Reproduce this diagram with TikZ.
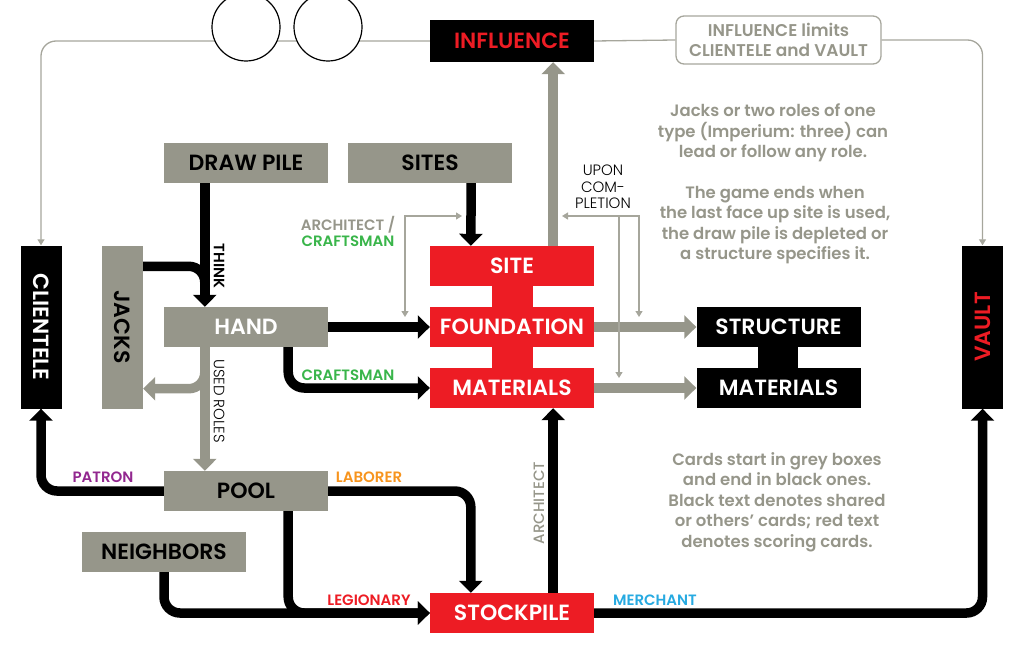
\documentclass[tikz,border=0pt]{standalone}
\usepackage{fontspec}
\setmainfont{Poppins}[BoldFont={Poppins SemiBold}]
\newfontfamily\lightfont{Poppins Light}
\newfontfamily\medfont{Poppins Medium}
\usetikzlibrary{arrows.meta}

\begin{document}
\begin{tikzpicture}[x=1pt,y=-1pt,
  box/.style={minimum width=164pt,minimum height=40pt,inner sep=0pt,
    font=\bfseries\fontsize{22}{22}\selectfont},
  graybox/.style={box,fill=cgray,text=black},
  redbox/.style={box,fill=cred,text=white},
  blackbox/.style={box,fill=black,text=white},
  tallbox/.style={box,minimum width=41pt,minimum height=163pt},
  lbl/.style={inner sep=0pt,font=\bfseries\fontsize{15}{16}\selectfont},
  thinlbl/.style={inner sep=0pt,font=\lightfont\fontsize{15}{16.5}\selectfont},
  note/.style={inner sep=0pt,align=center,text=cgray,
    font=\bfseries\fontsize{16.5}{20.4}\selectfont},
  blk/.style={draw=black,line width=9.5pt,rounded corners=16pt,
    -{Triangle[width=23pt,length=12pt]}},
  blkline/.style={draw=black,line width=9.5pt,rounded corners=16pt},
  gry/.style={blk,draw=cgray},
  thinline/.style={draw=cgray!85,line width=1.3pt,rounded corners=15pt},
  thinarr/.style={thinline,-{Triangle[width=7pt,length=6pt]}}]
  \definecolor{cgray}{RGB}{150,150,138}
  \definecolor{cred}{RGB}{237,28,36}
  \definecolor{cgreen}{RGB}{57,181,74}
  \definecolor{cpurple}{RGB}{146,39,143}
  \definecolor{corange}{RGB}{247,148,29}
  \definecolor{cblue}{RGB}{39,170,225}
  \useasboundingbox (0,0) rectangle (1024,655);

  % card boxes
  \node[graybox] (drawpile) at (246,163) {DRAW PILE};
  \node[graybox] (sites) at (430,163) {SITES};
  \node[graybox,text=white] (hand) at (246,327) {HAND};
  \node[graybox] (pool) at (246,491) {POOL};
  \node[graybox] (neighbors) at (164,552) {NEIGHBORS};
  \node[tallbox,fill=cgray,text=black] (jacks) at (122.5,327) {\rotatebox{-90}{JACKS}};
  \node[tallbox,fill=black,text=white] (clientele) at (41,327) {\rotatebox{-90}{CLIENTELE}};
  \node[tallbox,fill=black,text=cred] (vault) at (982.5,327) {\rotatebox{90}{VAULT}};
  \fill[cred] (492,280) rectangle (533,375);
  \node[redbox] (site) at (512,266) {SITE};
  \node[redbox] (foundation) at (512,327) {FOUNDATION};
  \node[redbox] (materials) at (512,388) {MATERIALS};
  \node[redbox] (stockpile) at (512,613) {STOCKPILE};
  \node[blackbox,text=cred,minimum height=42pt] (influence) at (512,41) {INFLUENCE};
  \fill[black] (758,340) rectangle (798,375);
  \node[blackbox] (structure) at (778.5,327) {STRUCTURE};
  \node[blackbox] (smaterials) at (778.5,388) {MATERIALS};
  \node[draw=cgray!85,line width=1.3pt,rounded corners=8pt,minimum width=205pt,
    minimum height=48pt,inner sep=0pt,align=center,text=cgray,
    font=\bfseries\fontsize{17}{20}\selectfont] (limits) at (778.5,40)
    {INFLUENCE limits\\CLIENTELE and VAULT};

  % influence limits
  \draw[thinarr] (influence.west) -| (clientele.north);
  \draw[thinline] (influence.east) -- (limits.west);
  \draw[thinarr] (limits.east) -| (vault.north);
  \node[circle,draw,fill=white,line width=1.2pt,minimum size=68pt] (coinA) at (246,27) {};
  \node[circle,draw,fill=white,line width=1.2pt,minimum size=68pt] (coinB) at (328,27) {};

  % card flow
  \draw[blkline] ([yshift=-21pt]jacks.north east) -| ([xshift=41pt,yshift=18pt]hand.north west);
  \draw[blk] ([xshift=41pt]drawpile.south west) -- ([xshift=41pt]hand.north west);
  \draw[blk] ([xshift=-41pt]sites.south east) -- ([xshift=41pt]site.north west);
  \draw[blk] (hand.east) -- (foundation.west);
  \draw[blk] ([xshift=-40pt]hand.south east) |- (materials.west);
  \draw[gry] ([xshift=41pt]hand.south west) |- ([yshift=20pt]jacks.south east);
  \draw[gry] ([xshift=41pt]hand.south west) -- ([xshift=41pt]pool.north west);
  \draw[gry] ([xshift=-41pt]site.north east) -- ([xshift=-41pt]influence.south east);
  \draw[gry] (foundation.east) -- (structure.west);
  \draw[gry] (materials.east) -- (smaterials.west);
  \draw[blk] (pool.west) -| (clientele.south);
  \draw[blk] (pool.east) -| ([xshift=41pt]stockpile.north west);
  \draw[blk] (neighbors.south) |- (stockpile.west);
  \draw[blk] ([xshift=-40pt]pool.south east) |- (stockpile.west);
  \draw[blk] ([xshift=-41pt]stockpile.north east) -- ([xshift=-41pt]materials.south east);
  \draw[blk] (stockpile.east) -| (vault.south);

  % thin pointers
  \coordinate (acsite) at (462,216);
  \coordinate (acfound) at (405,317);
  \coordinate (ucinfl) at (562,216);
  \coordinate (ucstruct) at (639,317);
  \coordinate (ucmat) at (619,378);
  \draw[thinarr,rounded corners=0pt,{Triangle[width=7pt,length=6pt]}-{Triangle[width=7pt,length=6pt]}]
    (acfound) |- (acsite);
  \draw[thinarr,rounded corners=0pt,{Triangle[width=7pt,length=6pt]}-{Triangle[width=7pt,length=6pt]}]
    (ucinfl) -| (ucstruct);
  \draw[thinarr,rounded corners=0pt] (ucmat |- ucinfl) -- (ucmat);

  % labels
  \node[lbl] (think) at (219,266) {\rotatebox{-90}{THINK}};
  \node[thinlbl] (usedroles) at (219,401) {\rotatebox{-90}{USED ROLES}};
  \node[lbl,align=center] (archcraft) at (348,231)
    {\textcolor{cgray}{ARCHITECT /}\\\textcolor{cgreen}{CRAFTSMAN}};
  \node[lbl,text=cgreen] (craftsman) at (348,375) {CRAFTSMAN};
  \node[thinlbl,align=center] (upon) at (603,187) {UPON\\COM-\\PLETION};
  \node[lbl,text=cpurple] (patron) at (103,477) {PATRON};
  \node[lbl,text=corange] (laborer) at (369,477) {LABORER};
  \node[lbl,text=cred] (legionary) at (369,600) {LEGIONARY};
  \node[lbl,text=cblue] (merchant) at (655,600) {MERCHANT};
  \node[lbl,font=\medfont\fontsize{15}{16}\selectfont,text=cgray] (architect) at (539,503)
    {\rotatebox{90}{ARCHITECT}};

  % notes
  \node[note] (jacksnote) at (773,133)
    {Jacks or two roles of one\\type (Imperium: three) can\\lead or follow any role.};
  \node[note] (endnote) at (775,225)
    {The game ends when\\the last face up site is used,\\the draw pile is depleted or\\a structure specifies it.};
  \node[note] (cardsnote) at (777,502)
    {Cards start in grey boxes\\and end in black ones.\\Black text denotes shared\\or others’ cards; red text\\denotes scoring cards.};
\end{tikzpicture}
\end{document}
